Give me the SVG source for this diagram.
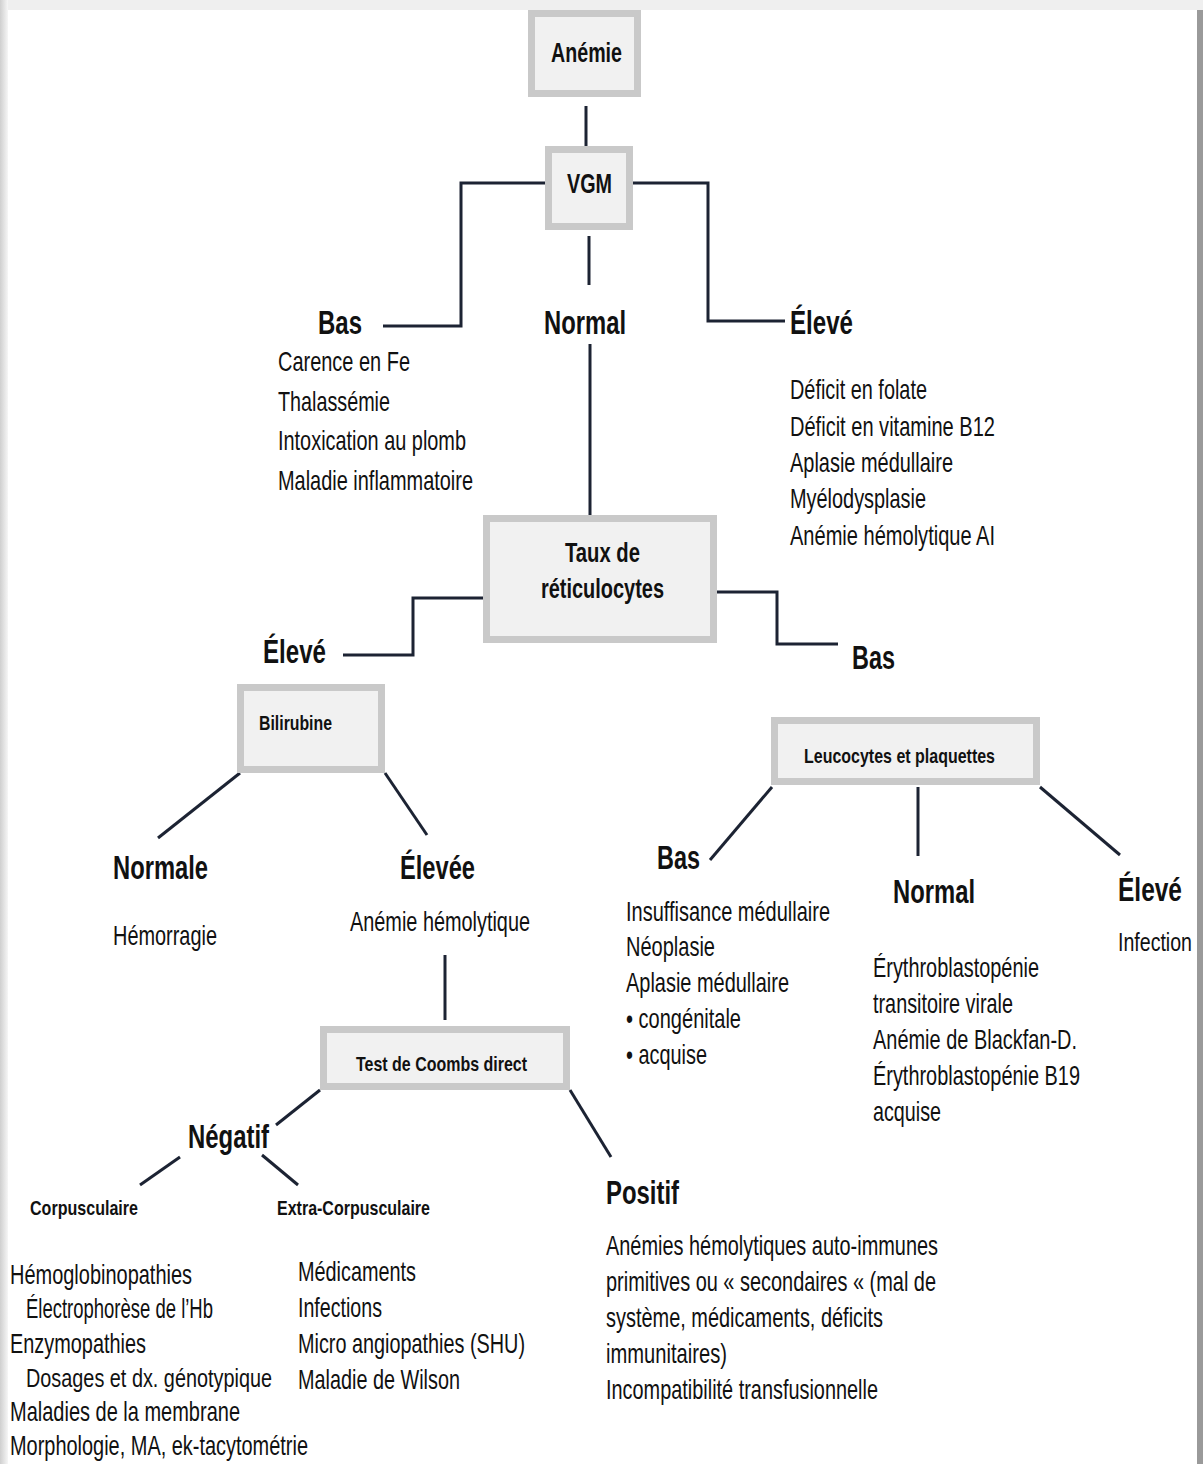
<svg xmlns="http://www.w3.org/2000/svg" width="1203" height="1464" viewBox="0 0 1203 1464">
<defs>
<linearGradient id="lg" x1="0" y1="0" x2="1" y2="0"><stop offset="0" stop-color="#cfcfcf"/><stop offset="1" stop-color="#f6f6f6"/></linearGradient>
</defs>
<style>
text{font-family:"Liberation Sans Narrow","Liberation Sans",Arial,sans-serif;fill:#111}
.box{fill:#f1f1f1;stroke:#c9c9c9;stroke-width:7}
.bt{font-weight:bold;font-size:27px}
.bs{font-weight:bold;font-size:21px}
.h{font-weight:bold;font-size:33px}
.t{font-size:28px}
.c{stroke:#1c2333;stroke-width:3;fill:none}
</style>
<rect x="0" y="0" width="1203" height="1464" fill="#fff"/>
<rect x="0" y="0" width="1203" height="10" fill="#efefef"/>
<rect x="0" y="0" width="8" height="1464" fill="url(#lg)"/>
<rect x="1197" y="10" width="6" height="1454" fill="#9a9a9a"/>

<g id="connectors">
<line class="c" x1="586" y1="106" x2="586" y2="150"/>
<polyline class="c" points="545,183 461,183 461,326 383,326"/>
<polyline class="c" points="633,183 708,183 708,321 785,321"/>
<line class="c" x1="589" y1="236" x2="589" y2="285"/>
<line class="c" x1="590" y1="344" x2="590" y2="515"/>
<polyline class="c" points="483,598 413,598 413,655 343,655"/>
<polyline class="c" points="717,592 777,592 777,644 838,644"/>
<line class="c" x1="240" y1="773" x2="158" y2="838"/>
<line class="c" x1="385" y1="773" x2="427" y2="835"/>
<line class="c" x1="772" y1="787" x2="710" y2="860"/>
<line class="c" x1="918" y1="787" x2="918" y2="856"/>
<line class="c" x1="1040" y1="787" x2="1120" y2="855"/>
<line class="c" x1="445" y1="955" x2="445" y2="1020"/>
<line class="c" x1="320" y1="1090" x2="276" y2="1125"/>
<line class="c" x1="570" y1="1090" x2="611" y2="1157"/>
<line class="c" x1="180" y1="1157" x2="140" y2="1185"/>
<line class="c" x1="262" y1="1155" x2="298" y2="1185"/>
</g>

<g id="anemie"><rect class="box" x="531.5" y="13.5" width="106" height="80"/><text class="bt" x="551" y="62" textLength="71" lengthAdjust="spacingAndGlyphs">Anémie</text></g>
<g id="vgm"><rect class="box" x="548.5" y="149.5" width="81" height="77"/><text class="bt" x="567" y="193" textLength="45" lengthAdjust="spacingAndGlyphs">VGM</text></g>
<g id="reticulocytes"><rect class="box" x="486.5" y="518.5" width="227" height="121"/>
<text class="bt" x="565" y="562" textLength="75" lengthAdjust="spacingAndGlyphs">Taux de</text>
<text class="bt" x="541" y="598" textLength="123" lengthAdjust="spacingAndGlyphs">réticulocytes</text></g>
<g id="bilirubine"><rect class="box" x="240.5" y="687.5" width="141" height="82"/><text class="bs" x="259" y="730" textLength="73" lengthAdjust="spacingAndGlyphs">Bilirubine</text></g>
<g id="leucocytes"><rect class="box" x="774.5" y="720.5" width="262" height="61"/><text class="bs" x="804" y="763" textLength="191" lengthAdjust="spacingAndGlyphs">Leucocytes et plaquettes</text></g>
<g id="coombs"><rect class="box" x="323.5" y="1029.5" width="243" height="57"/><text class="bs" x="356" y="1071" textLength="171" lengthAdjust="spacingAndGlyphs">Test de Coombs direct</text></g>

<g id="vgm-bas"><text class="h" x="318" y="334" textLength="44" lengthAdjust="spacingAndGlyphs">Bas</text>
<text class="t" x="278" y="371" textLength="132" lengthAdjust="spacingAndGlyphs">Carence en Fe</text>
<text class="t" x="278" y="411" textLength="112" lengthAdjust="spacingAndGlyphs">Thalassémie</text>
<text class="t" x="278" y="450" textLength="188" lengthAdjust="spacingAndGlyphs">Intoxication au plomb</text>
<text class="t" x="278" y="490" textLength="195" lengthAdjust="spacingAndGlyphs">Maladie inflammatoire</text></g>
<g id="vgm-normal"><text class="h" x="544" y="334" textLength="82" lengthAdjust="spacingAndGlyphs">Normal</text></g>
<g id="vgm-eleve"><text class="h" x="790" y="334" textLength="63" lengthAdjust="spacingAndGlyphs">Élevé</text>
<text class="t" x="790" y="399" textLength="137" lengthAdjust="spacingAndGlyphs">Déficit en folate</text>
<text class="t" x="790" y="436" textLength="205" lengthAdjust="spacingAndGlyphs">Déficit en vitamine B12</text>
<text class="t" x="790" y="472" textLength="163" lengthAdjust="spacingAndGlyphs">Aplasie médullaire</text>
<text class="t" x="790" y="508" textLength="136" lengthAdjust="spacingAndGlyphs">Myélodysplasie</text>
<text class="t" x="790" y="545" textLength="205" lengthAdjust="spacingAndGlyphs">Anémie hémolytique AI</text></g>

<g id="retic-eleve"><text class="h" x="263" y="663" textLength="63" lengthAdjust="spacingAndGlyphs">Élevé</text></g>
<g id="retic-bas"><text class="h" x="852" y="669" textLength="43" lengthAdjust="spacingAndGlyphs">Bas</text></g>

<g id="bili-normale"><text class="h" x="113" y="879" textLength="95" lengthAdjust="spacingAndGlyphs">Normale</text>
<text class="t" x="113" y="945" textLength="104" lengthAdjust="spacingAndGlyphs">Hémorragie</text></g>
<g id="bili-elevee"><text class="h" x="400" y="879" textLength="75" lengthAdjust="spacingAndGlyphs">Élevée</text>
<text class="t" x="350" y="931" textLength="180" lengthAdjust="spacingAndGlyphs">Anémie hémolytique</text></g>

<g id="leuco-bas"><text class="h" x="657" y="869" textLength="43" lengthAdjust="spacingAndGlyphs">Bas</text>
<text class="t" x="626" y="921" textLength="204" lengthAdjust="spacingAndGlyphs">Insuffisance médullaire</text>
<text class="t" x="626" y="956" textLength="89" lengthAdjust="spacingAndGlyphs">Néoplasie</text>
<text class="t" x="626" y="992" textLength="163" lengthAdjust="spacingAndGlyphs">Aplasie médullaire</text>
<text class="t" x="626" y="1028" textLength="115" lengthAdjust="spacingAndGlyphs">• congénitale</text>
<text class="t" x="626" y="1064" textLength="81" lengthAdjust="spacingAndGlyphs">• acquise</text></g>
<g id="leuco-normal"><text class="h" x="893" y="903" textLength="82" lengthAdjust="spacingAndGlyphs">Normal</text>
<text class="t" x="873" y="977" textLength="166" lengthAdjust="spacingAndGlyphs">Érythroblastopénie</text>
<text class="t" x="873" y="1013" textLength="140" lengthAdjust="spacingAndGlyphs">transitoire virale</text>
<text class="t" x="873" y="1049" textLength="204" lengthAdjust="spacingAndGlyphs">Anémie de Blackfan-D.</text>
<text class="t" x="873" y="1085" textLength="207" lengthAdjust="spacingAndGlyphs">Érythroblastopénie B19</text>
<text class="t" x="873" y="1121" textLength="68" lengthAdjust="spacingAndGlyphs">acquise</text></g>
<g id="leuco-eleve"><text class="h" x="1118" y="901" textLength="64" lengthAdjust="spacingAndGlyphs">Élevé</text>
<text class="t" x="1118" y="951" textLength="74" lengthAdjust="spacingAndGlyphs" style="font-size:26px">Infection</text></g>

<g id="negatif"><text class="h" x="188" y="1148" textLength="81" lengthAdjust="spacingAndGlyphs">Négatif</text></g>
<g id="corpusculaire"><text class="bs" x="30" y="1215" textLength="108" lengthAdjust="spacingAndGlyphs">Corpusculaire</text>
<text class="t" x="10" y="1284" textLength="182" lengthAdjust="spacingAndGlyphs">Hémoglobinopathies</text>
<text class="t" x="26" y="1318" textLength="187" lengthAdjust="spacingAndGlyphs">Électrophorèse de l’Hb</text>
<text class="t" x="10" y="1353" textLength="136" lengthAdjust="spacingAndGlyphs">Enzymopathies</text>
<text class="t" x="26" y="1387" textLength="246" lengthAdjust="spacingAndGlyphs" style="font-size:26px">Dosages et dx. génotypique</text>
<text class="t" x="10" y="1421" textLength="230" lengthAdjust="spacingAndGlyphs">Maladies de la membrane</text>
<text class="t" x="10" y="1455" textLength="298" lengthAdjust="spacingAndGlyphs">Morphologie, MA, ek-tacytométrie</text></g>
<g id="extra-corpusculaire"><text class="bs" x="277" y="1215" textLength="153" lengthAdjust="spacingAndGlyphs">Extra-Corpusculaire</text>
<text class="t" x="298" y="1281" textLength="118" lengthAdjust="spacingAndGlyphs">Médicaments</text>
<text class="t" x="298" y="1317" textLength="84" lengthAdjust="spacingAndGlyphs">Infections</text>
<text class="t" x="298" y="1353" textLength="227" lengthAdjust="spacingAndGlyphs">Micro angiopathies (SHU)</text>
<text class="t" x="298" y="1389" textLength="162" lengthAdjust="spacingAndGlyphs">Maladie de Wilson</text></g>
<g id="positif"><text class="h" x="606" y="1204" textLength="73" lengthAdjust="spacingAndGlyphs">Positif</text>
<text class="t" x="606" y="1255" textLength="332" lengthAdjust="spacingAndGlyphs">Anémies hémolytiques auto-immunes</text>
<text class="t" x="606" y="1291" textLength="330" lengthAdjust="spacingAndGlyphs">primitives ou « secondaires « (mal de</text>
<text class="t" x="606" y="1327" textLength="277" lengthAdjust="spacingAndGlyphs">système, médicaments, déficits</text>
<text class="t" x="606" y="1363" textLength="121" lengthAdjust="spacingAndGlyphs">immunitaires)</text>
<text class="t" x="606" y="1399" textLength="272" lengthAdjust="spacingAndGlyphs">Incompatibilité transfusionnelle</text></g>
</svg>
